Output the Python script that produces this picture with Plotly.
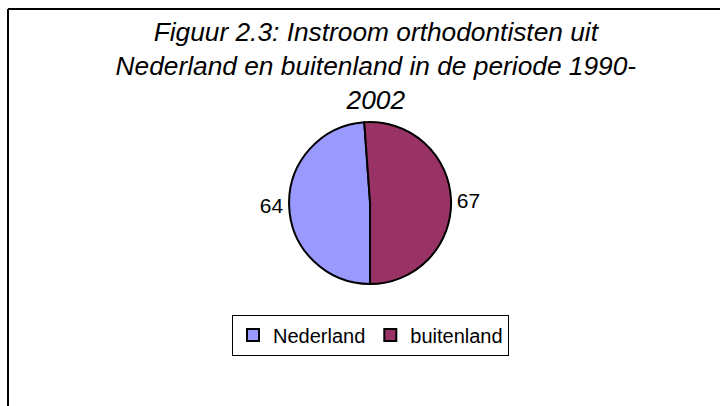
import plotly.graph_objects as go

# ── DATA ─────────────────────────────────────────────────────
labels = ['Nederland', 'buitenland']
values = [64, 67]
colors = ['#9999FF', '#993366']

title_text = ('Figuur 2.3: Instroom orthodontisten uit<br>'
              'Nederland en buitenland in de periode 1990-<br>2002')

W, H = 720, 406
FONT = 'Liberation Sans, Arial, sans-serif'

# ── PIE ──────────────────────────────────────────────────────
fig = go.Figure(go.Pie(
    labels=labels, values=values,
    marker=dict(colors=colors, line=dict(color='black', width=2)),
    sort=False, direction='clockwise', rotation=180,
    textinfo='value', textposition='outside',
    textfont=dict(family=FONT, size=21, color='black'),
    domain=dict(x=[0.30, 0.728], y=[1 - 284 / H, 1 - 122 / H]),
    hoverinfo='skip',
))

# frame on left and top, like the Excel chart area
fx, fy = 8 / W, 1 - 9 / H
fig.add_shape(type='line', xref='paper', yref='paper',
              x0=fx, y0=0, x1=fx, y1=fy, line=dict(color='black', width=2))
fig.add_shape(type='line', xref='paper', yref='paper',
              x0=fx, y0=fy, x1=1, y1=fy, line=dict(color='black', width=2))

fig.update_layout(
    width=W, height=H,
    margin=dict(l=0, r=0, t=0, b=0),
    paper_bgcolor='white', plot_bgcolor='white',
    title=dict(text=title_text, x=0.522, xanchor='center',
               y=1 - 41 / H, yanchor='top',
               font=dict(family=FONT, size=26.3, color='black', style='italic')),
    showlegend=True,
    legend=dict(orientation='h', x=0.5146, xanchor='center',
                y=1 - 335 / H, yanchor='middle',
                bordercolor='black', borderwidth=1,
                font=dict(family=FONT, size=20, color='black'),
                itemwidth=30),
)

# drop the browser's default body margin so the chart sits at 0,0
fig.write_html('out.html', config={'displayModeBar': False},
               post_script="document.body.style.margin='0';")
